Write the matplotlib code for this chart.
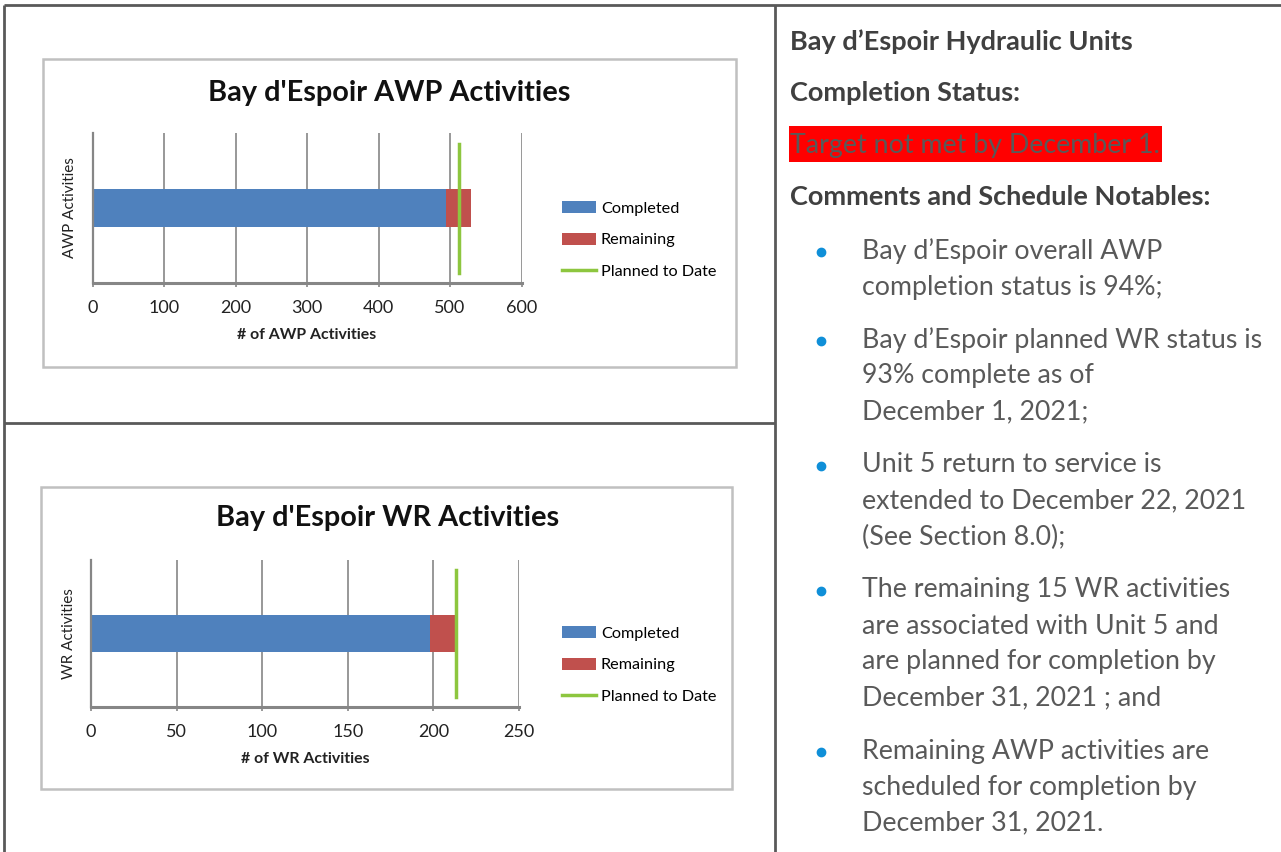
import matplotlib
matplotlib.use("Agg")
import matplotlib.pyplot as plt
from matplotlib import patches
import numpy as np

plt.rcParams["font.family"] = ["Lato", "DejaVu Sans"]

W, H = 1281, 852

## Chart values
awp_completed = 495
awp_remaining = 34
awp_planned = 513

wr_completed = 198
wr_remaining = 15
wr_planned = 213

series_labels = ["Completed", "Remaining", "Planned to Date"]

## Right hand panel text
panel_title = "Bay d\u2019Espoir Hydraulic Units"
status_heading = "Completion Status:"
status_text = "Target not met by December 1."
comments_heading = "Comments and Schedule Notables:"
bullets = [
    ["Bay d\u2019Espoir overall AWP", "completion status is 94%;"],
    ["Bay d\u2019Espoir planned WR status is", "93% complete as of", "December 1, 2021;"],
    ["Unit 5 return to service is", "extended to December 22, 2021", "(See Section 8.0);"],
    ["The remaining 15 WR activities", "are associated with Unit 5 and",
     "are planned for completion by", "December 31, 2021 ; and"],
    ["Remaining AWP activities are", "scheduled for completion by", "December 31, 2021."],
]

BLUE = "#4f81bd"
RED = "#c0504d"
GREEN = "#8dc63f"
GRID = "#868686"
TABLE = "#595959"
HEAD = "#404040"
BODY = "#595959"

HEAD_SIZE = 19.5
BODY_SIZE = 19.3
TITLE_SIZE = 20.8


fig = plt.figure(figsize=(W / 100, H / 100), dpi=100)

# background axes in pixel coordinates for the table and the text panel
bg = fig.add_axes([0, 0, 1, 1], zorder=0)
bg.set_xlim(0, W)
bg.set_ylim(H, 0)
bg.axis("off")


def px_axes(x0, y0, x1, y1):
    return fig.add_axes([x0 / W, 1 - y1 / H, (x1 - x0) / W, (y1 - y0) / H], zorder=2)


## Table lines
bg.plot([4, W], [5, 5], color=TABLE, lw=2, solid_capstyle="butt")
bg.plot([4, 4], [5, H], color=TABLE, lw=2, solid_capstyle="butt")
bg.plot([775, 775], [5, H], color=TABLE, lw=2, solid_capstyle="butt")
bg.plot([4, 775], [423, 423], color=TABLE, lw=2, solid_capstyle="butt")

## Chart frames
bg.add_patch(patches.Rectangle((43, 59), 693, 308, fill=False, edgecolor="#c0c0c0", lw=1.8))
bg.add_patch(patches.Rectangle((41, 487), 691, 302, fill=False, edgecolor="#c0c0c0", lw=1.8))


def draw_chart(ax, completed, remaining, planned, xmax, step, ylabel, xlabel, legend_y):
    b1 = ax.barh([0], [completed], height=0.25, color=BLUE, label=series_labels[0], zorder=2)
    b2 = ax.barh([0], [remaining], left=[completed], height=0.25, color=RED, label=series_labels[1], zorder=2)
    ln = ax.plot([planned, planned], [-0.43, 0.43], color=GREEN, lw=2.5, label=series_labels[2], zorder=3)[0]
    ax.set_xlim(0, xmax)
    ax.set_ylim(-0.5, 0.5)
    ax.set_xticks(np.arange(0, xmax + 1, step))
    ax.set_yticks([])
    ax.grid(axis="x", color=GRID, lw=1.2)
    ax.set_axisbelow(True)
    ax.set_facecolor("none")
    for side in ["top", "right"]:
        ax.spines[side].set_visible(False)
    ax.spines["left"].set_color(GRID)
    ax.spines["left"].set_linewidth(1.6)
    ax.spines["bottom"].set_color(GRID)
    ax.spines["bottom"].set_linewidth(2.2)
    ax.tick_params(axis="x", length=3, width=1.2, color=GRID, pad=9, labelsize=13, labelcolor="#222222")
    ax.set_xlabel(xlabel, fontsize=11.4, fontweight="bold", color="#222222", labelpad=9)
    ax.set_ylabel(ylabel, fontsize=11, color="#222222", labelpad=11)
    ax.legend([b1, b2, ln], series_labels, loc="center left",
              bbox_to_anchor=(562 / W, 1 - legend_y / H),
              bbox_transform=fig.transFigure, frameon=False, fontsize=11.7,
              handlelength=2.1, handleheight=0.8, handletextpad=0.3,
              labelspacing=1.05, borderpad=0, borderaxespad=0)


ax1 = px_axes(92.5, 133, 521.5, 283)
draw_chart(ax1, awp_completed, awp_remaining, awp_planned, 600, 100,
           "AWP Activities", "# of AWP Activities", 240)
ax2 = px_axes(91, 560, 519, 707)
draw_chart(ax2, wr_completed, wr_remaining, wr_planned, 250, 50,
           "WR Activities", "# of WR Activities", 665)

# titles are centred on the chart frame, not the plot area
bg.text(389, 93, "Bay d'Espoir AWP Activities", fontsize=TITLE_SIZE, fontweight="bold",
        color="#111111", ha="center", va="center")
bg.text(388, 518, "Bay d'Espoir WR Activities", fontsize=TITLE_SIZE, fontweight="bold",
        color="#111111", ha="center", va="center")

## Right panel
bg.text(790, 42, panel_title, fontsize=HEAD_SIZE, fontweight="bold", color=HEAD, va="center")
bg.text(790, 93, status_heading, fontsize=HEAD_SIZE, fontweight="bold", color=HEAD, va="center")
bg.add_patch(patches.Rectangle((789, 126), 373, 36, color="#ff0000", lw=0))
bg.text(790, 145, status_text, fontsize=BODY_SIZE, color=BODY, va="center")
bg.text(790, 197, comments_heading, fontsize=HEAD_SIZE, fontweight="bold", color=HEAD, va="center")

y = 251
for lines in bullets:
    bg.plot(821, y + 1, "o", color="#0f8fd8", markersize=6)
    for line in lines:
        bg.text(862, y, line, fontsize=BODY_SIZE, color=BODY, va="center")
        y += 36
    y += 17

fig.savefig("out.png", dpi=100)
